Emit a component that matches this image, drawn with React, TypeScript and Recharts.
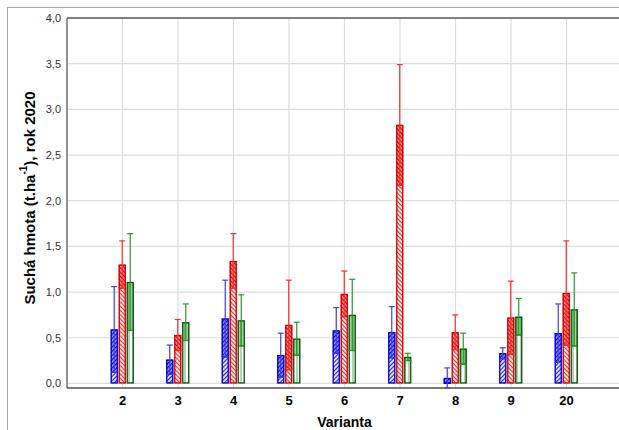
import React from 'react';
import { BarChart, Bar, XAxis, YAxis, CartesianGrid, ErrorBar, ReferenceLine, Label } from 'recharts';

const categories = ['2', '3', '4', '5', '6', '7', '8', '9', '20'];
const blueMean = [0.59, 0.26, 0.71, 0.31, 0.58, 0.56, 0.06, 0.33, 0.55];
const blueErr = [0.47, 0.16, 0.42, 0.24, 0.25, 0.28, 0.11, 0.06, 0.32];
const redMean = [1.3, 0.53, 1.34, 0.64, 0.98, 2.83, 0.56, 0.72, 0.99];
const redErr = [0.26, 0.17, 0.3, 0.49, 0.25, 0.66, 0.19, 0.4, 0.57];
const greenMean = [1.11, 0.67, 0.69, 0.49, 0.75, 0.29, 0.38, 0.73, 0.81];
const greenErr = [0.53, 0.2, 0.28, 0.18, 0.39, 0.04, 0.17, 0.2, 0.4];
const yTicks = [0, 0.5, 1, 1.5, 2, 2.5, 3, 3.5, 4];

const data = categories.map((name, i) => ({
  name,
  blue: blueMean[i],
  blueE: blueErr[i],
  red: redMean[i],
  redE: redErr[i],
  green: greenMean[i],
  greenE: greenErr[i],
}));

const FONT = '"Liberation Sans", Arial, sans-serif';

// bar with hatched fill; the part between mean - err and mean is drawn denser
const makeShape = (meanKey: string, errKey: string, stroke: string, light: string, dark: string) =>
  (props: any) => {
    const { x, y, width, height, payload } = props;
    if (!height || height <= 0) return <g />;
    const mean = payload[meanKey];
    const err = payload[errKey];
    const eh = Math.min(height, (height * err) / mean);
    return (
      <g>
        <rect x={x} y={y} width={width} height={height} fill={`url(#${light})`} />
        <rect x={x} y={y} width={width} height={eh} fill={`url(#${dark})`} />
        <line x1={x} x2={x + width} y1={y + eh} y2={y + eh} stroke={stroke} strokeWidth={1} />
        <rect x={x + 0.5} y={y + 0.5} width={width - 1} height={height - 1} fill="none" stroke={stroke} strokeWidth={1.3} />
      </g>
    );
  };

const YLabel = () => {
  const cx = 29;
  const cy = 198;
  return (
    <text
      x={cx}
      y={cy}
      transform={`rotate(-90, ${cx}, ${cy})`}
      textAnchor="middle"
      dominantBaseline="central"
      fontFamily={FONT}
      fontWeight="bold"
      fontSize={15}
      fill="#000"
    >
      Suchá hmota (t.ha<tspan dy={-6} fontSize={10}>-1</tspan>
      <tspan dy={6}>), rok 2020</tspan>
    </text>
  );
};

const Patterns = () => (
  <svg width={0} height={0} style={{ position: 'absolute' }}>
    <defs>
      <pattern id="blueL" width="3" height="3" patternUnits="userSpaceOnUse" patternTransform="rotate(45)">
        <rect width="3" height="3" fill="#e0e0ff" />
        <line x1="0" y1="0" x2="0" y2="3" stroke="#1010f0" strokeWidth="1.9" />
      </pattern>
      <pattern id="blueD" width="3" height="3" patternUnits="userSpaceOnUse" patternTransform="rotate(45)">
        <rect width="3" height="3" fill="#9a9aff" />
        <line x1="0" y1="0" x2="0" y2="3" stroke="#0000d8" strokeWidth="2.3" />
      </pattern>
      <pattern id="redL" width="3" height="3" patternUnits="userSpaceOnUse" patternTransform="rotate(-45)">
        <rect width="3" height="3" fill="#ffe6e6" />
        <line x1="0" y1="0" x2="0" y2="3" stroke="#f02020" strokeWidth="1.9" />
      </pattern>
      <pattern id="redD" width="3" height="3" patternUnits="userSpaceOnUse" patternTransform="rotate(-45)">
        <rect width="3" height="3" fill="#ff9090" />
        <line x1="0" y1="0" x2="0" y2="3" stroke="#e00000" strokeWidth="2.3" />
      </pattern>
      <pattern id="greenL" width="4" height="4" patternUnits="userSpaceOnUse">
        <rect width="4" height="4" fill="#fff" />
        <line x1="1" y1="0" x2="1" y2="4" stroke="#a8d4a8" strokeWidth="1.8" />
      </pattern>
      <pattern id="greenD" width="4" height="4" patternUnits="userSpaceOnUse">
        <rect width="4" height="4" fill="#6db56d" />
        <line x1="3" y1="0" x2="3" y2="4" stroke="#d8ecd8" strokeWidth="1" />
      </pattern>
    </defs>
  </svg>
);

export default function App() {
  return (
    <div style={{ position: 'fixed', left: 0, top: 0, width: 619, height: 430, overflow: 'hidden', background: '#fff' }}>
      <Patterns />
      <div
        style={{
          position: 'absolute',
          left: 7,
          top: 7,
          width: 700,
          height: 500,
          border: '1px solid #a8a8a8',
          boxSizing: 'border-box',
        }}
      />
      <div style={{ position: 'absolute', left: 0, top: 0 }}>
        <BarChart
          width={640}
          height={430}
          data={data}
          margin={{ top: 18, right: 18, left: 0, bottom: 0 }}
          barSize={7}
          barGap={1}
        >
          <CartesianGrid stroke="#dcdcdc" strokeWidth={1.2} />
          <XAxis
            dataKey="name"
            height={42}
            padding={{ left: 27.75, right: 27.75 }}
            tickLine={false}
            axisLine={{ stroke: '#555', strokeWidth: 1.5 }}
            tick={{ fontFamily: FONT, fontSize: 13, fontWeight: 'bold', fill: '#000' }}
            tickMargin={2}
          >
            <Label
              value="Varianta"
              position="insideBottom"
              offset={3}
              style={{ fontFamily: FONT, fontSize: 14, fontWeight: 'bold', fill: '#000' }}
            />
          </XAxis>
          <YAxis
            type="number"
            domain={[0, 4]}
            ticks={yTicks}
            width={67}
            tickLine={false}
            tickSize={4}
            tickMargin={2}
            axisLine={{ stroke: '#555', strokeWidth: 1.2 }}
            tickFormatter={(v: number) => v.toFixed(1).replace('.', ',')}
            tick={{ fontFamily: FONT, fontSize: 11, fill: '#333' }}
            interval={0}
          >
            <Label content={<YLabel />} />
          </YAxis>
          <ReferenceLine y={4} stroke="#808080" strokeWidth={2} />
          <Bar dataKey="blue" isAnimationActive={false} shape={makeShape('blue', 'blueE', '#0000c0', 'blueL', 'blueD')}>
            <ErrorBar dataKey="blueE" width={3} stroke="#3a3aff" strokeWidth={1.2} direction="y" />
          </Bar>
          <Bar dataKey="red" isAnimationActive={false} shape={makeShape('red', 'redE', '#c80000', 'redL', 'redD')}>
            <ErrorBar dataKey="redE" width={3} stroke="#ff2a2a" strokeWidth={1.2} direction="y" />
          </Bar>
          <Bar dataKey="green" isAnimationActive={false} shape={makeShape('green', 'greenE', '#0a500a', 'greenL', 'greenD')}>
            <ErrorBar dataKey="greenE" width={3} stroke="#2a962a" strokeWidth={1.2} direction="y" />
          </Bar>
        </BarChart>
      </div>
    </div>
  );
}
